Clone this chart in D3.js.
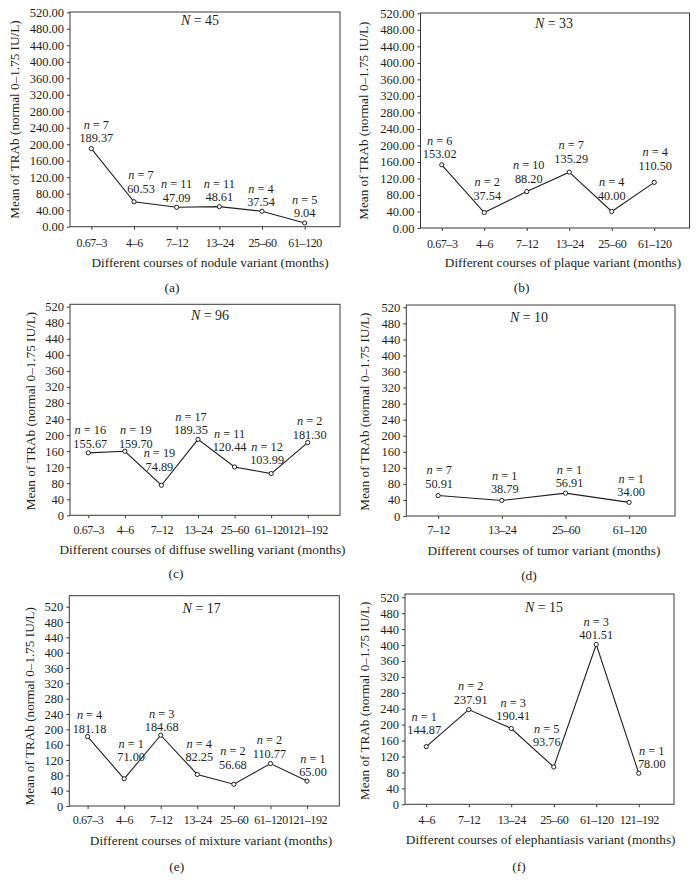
<!DOCTYPE html>
<html><head><meta charset="utf-8">
<script src="https://cdn.jsdelivr.net/npm/d3@7"></script>
<style>
body{margin:0;background:#fff}
svg{display:block}
text{font-family:"Liberation Serif","Times New Roman",serif;fill:#231f20}
</style>
</head><body>
<svg id="fig" width="698" height="890"></svg>
<script>
// ---------- data ----------
const yTickValues = [0, 40, 80, 120, 160, 200, 240, 280, 320, 360, 400, 440, 480, 520];
const yTitle = "Mean of TRAb (normal 0–1.75 IU/L)";

const catsA = ["0.67–3", "4–6", "7–12", "13–24", "25–60", "61–120"];
const valsA = [189.37, 60.53, 47.09, 48.61, 37.54, 9.04];
const nA = [7, 7, 11, 11, 4, 5];

const catsB = ["0.67–3", "4–6", "7–12", "13–24", "25–60", "61–120"];
const valsB = [153.02, 37.54, 88.20, 135.29, 40.00, 110.50];
const nB = [6, 2, 10, 7, 4, 4];

const catsC = ["0.67–3", "4–6", "7–12", "13–24", "25–60", "61–120", "121–192"];
const valsC = [155.67, 159.70, 74.89, 189.35, 120.44, 103.99, 181.30];
const nC = [16, 19, 19, 17, 11, 12, 2];

const catsD = ["7–12", "13–24", "25–60", "61–120"];
const valsD = [50.91, 38.79, 56.91, 34.00];
const nD = [7, 1, 1, 1];

const catsE = ["0.67–3", "4–6", "7–12", "13–24", "25–60", "61–120", "121–192"];
const valsE = [181.18, 71.00, 184.68, 82.25, 56.68, 110.77, 65.00];
const nE = [4, 1, 3, 4, 2, 2, 1];

const catsF = ["4–6", "7–12", "13–24", "25–60", "61–120", "121–192"];
const valsF = [144.87, 237.91, 190.41, 93.76, 401.51, 78.00];
const nF = [1, 2, 3, 5, 3, 1];

const totals = [45, 33, 96, 10, 17, 15];
const xTitles = [
  "Different courses of nodule variant (months)",
  "Different courses of plaque variant (months)",
  "Different courses of diffuse swelling variant (months)",
  "Different courses of tumor variant (months)",
  "Different courses of mixture variant (months)",
  "Different courses of elephantiasis variant (months)"
];
const letters = ["(a)", "(b)", "(c)", "(d)", "(e)", "(f)"];
const tickDecimals = [2, 2, 0, 0, 0, 0];

// ---------- layout (positions only) ----------
const layout = [
  {L:70,  R:340, top:12,  y520:12.3,  y0:226.7, yTitleX:14,  NX:200, NY:20,  xLabY:243, tX:210, tY:262, lX:172, lY:287},
  {L:420.5,R:689.5,top:13, y520:13.3,  y0:228,   yTitleX:363, NX:554, NY:23,  xLabY:243.3, tX:563, tY:262, lX:521.7, lY:287.3},
  {L:70,  R:340, top:304.3, y520:306.7, y0:515.3, yTitleX:30, NX:210, NY:315, xLabY:530, tX:202.5, tY:549.3, lX:176, lY:573},
  {L:406.3,R:675,top:305, y520:307.3, y0:516,   yTitleX:364, NX:529, NY:316.7, xLabY:530, tX:544, tY:550, lX:529, lY:575.7},
  {L:69.3,R:339.3,top:595.7, y520:606.7, y0:806, yTitleX:29.3, NX:201.7, NY:608.3, xLabY:820, tX:211, tY:840, lX:176.7, lY:866.7},
  {L:405, R:674, top:594, y520:597.3, y0:804.3, yTitleX:364, NX:544, NY:606.7, xLabY:820, tX:540.7, tY:839.3, lX:519, lY:866}
];
// label nudges relative to each point: [dx, dy of value-label centre]
const nudges = [
  [[5,-11],[7,-13.4],[0,-9.7],[0,-10],[-1,-9.5],[0,-10]],
  [[-2,-11],[3,-17],[2,-13],[2,-13.6],[0,-16],[1,-17]],
  [[2,-9.4],[11,-8],[-2,-19],[-7,-9.3],[-5,-20],[-4,-13.6],[2,-8.3]],
  [[1,-12.3],[3,-11.4],[4,-10.5],[2,-10.7]],
  [[2,-8],[7,-22],[1,-8.3],[2,-17.7],[-1,-20],[-1,-10],[6,-9.3]],
  [[-2,-16.6],[2,-10.3],[2,-12.5],[-7,-25],[0,-9.5],[13,-9.3]]
];

const panels = [
  {cats:catsA, vals:valsA, ns:nA},
  {cats:catsB, vals:valsB, ns:nB},
  {cats:catsC, vals:valsC, ns:nC},
  {cats:catsD, vals:valsD, ns:nD},
  {cats:catsE, vals:valsE, ns:nE},
  {cats:catsF, vals:valsF, ns:nF}
];

const ink = "#231f20";
const svg = d3.select("#fig");
const lineGap = 13.4;

panels.forEach((p, i) => {
  const lo = layout[i];
  const g = svg.append("g");
  const x = d3.scalePoint().domain(p.cats).range([lo.L, lo.R - 14]).padding(0.5);
  const y = d3.scaleLinear().domain([0, 520]).range([lo.y0, lo.y520]);

  // frame
  g.append("rect")
    .attr("x", lo.L).attr("y", lo.top)
    .attr("width", lo.R - lo.L).attr("height", lo.y0 - lo.top)
    .attr("fill", "none").attr("stroke", "#3a3a3a").attr("stroke-width", 1);

  // y axis
  const fmt = d3.format("." + tickDecimals[i] + "f");
  const ya = g.append("g").attr("transform", `translate(${lo.L},0)`)
    .call(d3.axisLeft(y).tickValues(yTickValues).tickFormat(fmt).tickSize(3).tickPadding(3));
  ya.select(".domain").remove();
  ya.selectAll("line").attr("stroke", "#3a3a3a");
  ya.selectAll("text").attr("font-size", 12.5).attr("fill", ink)
    .style("font-family", '"Liberation Serif", serif');

  // x axis
  const xa = g.append("g").attr("transform", `translate(0,${lo.y0})`)
    .call(d3.axisBottom(x).tickSize(3));
  xa.select(".domain").remove();
  xa.selectAll("line").attr("stroke", "#3a3a3a");
  xa.selectAll("text").attr("font-size", 12).attr("fill", ink)
    .attr("letter-spacing", "-0.4px")
    .attr("y", lo.xLabY - lo.y0).attr("dy", "0.35em")
    .style("font-family", '"Liberation Serif", serif');

  // y title
  g.append("text")
    .attr("transform", `translate(${lo.yTitleX},${(lo.y520 + lo.y0) / 2}) rotate(-90)`)
    .attr("text-anchor", "middle").attr("dy", "0.35em")
    .attr("font-size", 13.2).text(yTitle);

  // x title
  g.append("text").attr("x", lo.tX).attr("y", lo.tY).attr("dy", "0.35em")
    .attr("text-anchor", "middle").attr("font-size", 13.3).text(xTitles[i]);

  // panel letter
  g.append("text").attr("x", lo.lX).attr("y", lo.lY).attr("dy", "0.35em")
    .attr("text-anchor", "middle").attr("font-size", 13.5).text(letters[i]);

  // N label
  const nt = g.append("text").attr("x", lo.NX).attr("y", lo.NY).attr("dy", "0.35em")
    .attr("text-anchor", "middle").attr("font-size", 14);
  nt.append("tspan").attr("font-style", "italic").text("N");
  nt.append("tspan").text(" = " + totals[i]);

  // line
  const line = d3.line().x((d, k) => x(p.cats[k])).y(d => y(d));
  g.append("path").datum(p.vals).attr("d", line)
    .attr("fill", "none").attr("stroke", ink).attr("stroke-width", 1.1);

  // markers
  g.selectAll("circle.pt").data(p.vals).join("circle").attr("class", "pt")
    .attr("cx", (d, k) => x(p.cats[k])).attr("cy", d => y(d)).attr("r", 2.1)
    .attr("fill", "#fff").attr("stroke", ink).attr("stroke-width", 1);

  // two-line labels: "n = k" over the mean value
  p.vals.forEach((v, k) => {
    const [dx, dy] = nudges[i][k];
    const cx = x(p.cats[k]) + dx, cy = y(v) + dy;
    const t = g.append("text").attr("x", cx).attr("y", cy - lineGap)
      .attr("text-anchor", "middle").attr("font-size", 12.3);
    t.append("tspan").attr("font-style", "italic").attr("x", cx).attr("dy", "0.35em").text("n");
    t.append("tspan").text(" = " + p.ns[k]);
    t.append("tspan").attr("x", cx).attr("dy", lineGap).text(v.toFixed(2));
  });
});
</script>
</body></html>
